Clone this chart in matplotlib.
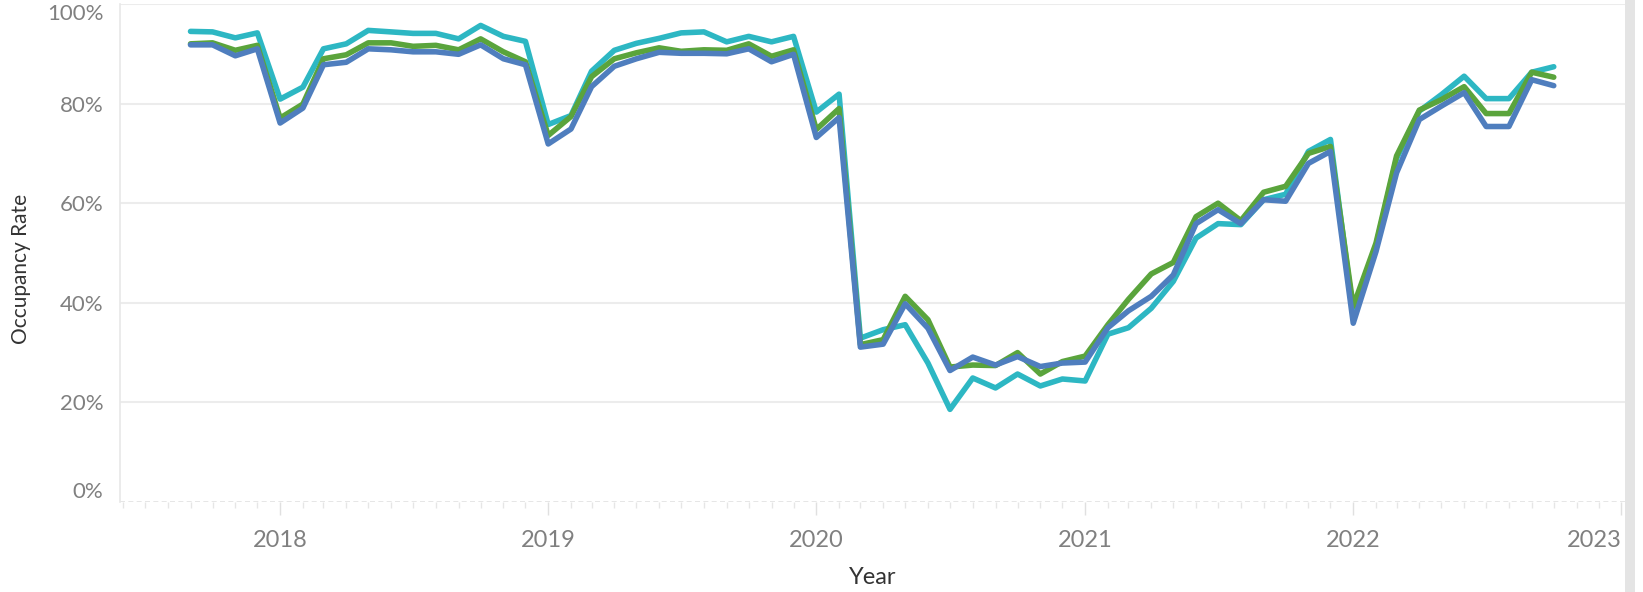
import matplotlib
matplotlib.use("Agg")
import matplotlib.pyplot as plt
import matplotlib.dates as mdates
from matplotlib.patches import Rectangle
from matplotlib.ticker import FuncFormatter
import pandas as pd

# monthly occupancy (%), Sep 2017 .. Oct 2022
months = pd.date_range("2017-09-01", periods=62, freq="MS")

teal = [94.5, 94.4, 93.2, 94.2,
        80.9, 83.3, 91.0, 92.0, 94.7, 94.4, 94.1, 94.1, 93.0, 95.7, 93.5, 92.5,
        75.8, 77.6, 86.5, 90.7, 92.1, 93.1, 94.2, 94.4, 92.4, 93.5, 92.4, 93.5,
        78.3, 81.9, 32.9, 34.6, 35.6, 27.9, 18.6, 24.9, 22.9, 25.7, 23.3, 24.7,
        24.3, 33.7, 35.0, 38.9, 44.3, 53.0, 55.9, 55.7, 60.7, 61.8, 70.4, 72.8,
        38.0, 51.5, 69.0, 78.5, 81.8, 85.5, 81.0, 81.0, 86.3, 87.4]

green = [92.0, 92.2, 90.7, 91.7,
         77.1, 79.9, 89.0, 89.8, 92.2, 92.2, 91.5, 91.7, 90.8, 93.0, 90.4, 88.4,
         73.6, 77.4, 85.4, 89.0, 90.2, 91.2, 90.5, 90.8, 90.7, 92.0, 89.5, 90.8,
         74.8, 79.0, 31.6, 32.6, 41.3, 36.6, 27.1, 27.5, 27.4, 30.0, 25.7, 28.2,
         29.3, 35.6, 40.7, 45.8, 48.1, 57.3, 60.0, 56.5, 62.2, 63.4, 70.0, 71.4,
         39.3, 52.0, 69.5, 78.7, 80.8, 83.4, 78.0, 78.0, 86.3, 85.3]

blue = [91.8, 91.8, 89.6, 91.0,
        76.1, 79.1, 87.8, 88.3, 91.0, 90.8, 90.4, 90.4, 89.9, 91.8, 89.0, 87.8,
        71.9, 74.9, 83.4, 87.5, 89.0, 90.3, 90.1, 90.1, 90.0, 91.0, 88.4, 89.9,
        73.2, 77.2, 31.1, 31.7, 39.8, 34.9, 26.4, 29.1, 27.5, 29.2, 27.2, 27.9,
        28.1, 35.0, 38.4, 41.3, 45.6, 55.9, 58.7, 55.9, 60.7, 60.4, 68.0, 70.4,
        35.9, 50.3, 66.1, 76.8, 79.5, 82.2, 75.4, 75.4, 84.8, 83.6]

y_ticks = [0, 20, 40, 60, 80, 100]

plt.rcParams["font.family"] = ["Lato", "DejaVu Sans"]

W, H = 1643, 592
fig = plt.figure(figsize=(W / 100, H / 100), dpi=100)
ax = fig.add_axes([120 / W, 1 - 502 / H, (1625 - 120) / W, (502 - 4) / H])

for vals, col in [(teal, "#2DB7C3"), (green, "#5AA43C"), (blue, "#4F7EBE")]:
    ax.plot(months, vals, color=col, lw=4.0, solid_joinstyle="round",
            solid_capstyle="round", zorder=3)

ax.set_ylim(0, 100)
ax.set_xlim(pd.Timestamp("2017-05-28"), pd.Timestamp("2023-01-06"))

# grid / frame
ax.set_yticks(y_ticks)
ax.yaxis.set_major_formatter(FuncFormatter(lambda v, _: f"{v:.0f}%"))
for v in y_ticks[1:]:
    ax.axhline(v, color="#ececec", lw=1.5, zorder=1)
ax.axhline(0, color="#e2e2e2", lw=1.2, ls=(0, (3, 2)), zorder=1)
for s in ["top", "right", "bottom"]:
    ax.spines[s].set_visible(False)
ax.spines["left"].set_color("#e8e8e8")
ax.spines["left"].set_linewidth(1.2)

ax.xaxis.set_major_locator(mdates.YearLocator())
ax.xaxis.set_major_formatter(mdates.DateFormatter("%Y"))
ax.xaxis.set_minor_locator(mdates.MonthLocator())
ax.tick_params(axis="x", which="major", length=9, width=1, color="#e0e0e0",
               labelsize=17, labelcolor="#808080", pad=11)
ax.tick_params(axis="x", which="minor", length=4, width=1, color="#e6e6e6")
ax.tick_params(axis="y", length=0, labelsize=16, labelcolor="#808080", pad=12)

fig.canvas.draw()
ylabels = ax.get_yticklabels()
ylabels[0].set_va("bottom")
ylabels[-1].set_va("top")
xlabels = ax.get_xticklabels()
xlabels[-1].set_ha("right")

ax.set_ylabel("Occupancy Rate", fontsize=15, color="#333333")
ax.yaxis.set_label_coords(-0.066, 0.468)
ax.yaxis.label.set_va("center")
ax.set_xlabel("Year", fontsize=17, color="#333333")
ax.xaxis.set_label_coords(0.5, -0.151)
ax.xaxis.label.set_va("center")

# grey strip at right edge
fig.add_artist(Rectangle((1625 / W, 0), 10 / W, 1, transform=fig.transFigure,
                         color="#e4e4e4", lw=0))

fig.savefig("out.png", dpi=100)
